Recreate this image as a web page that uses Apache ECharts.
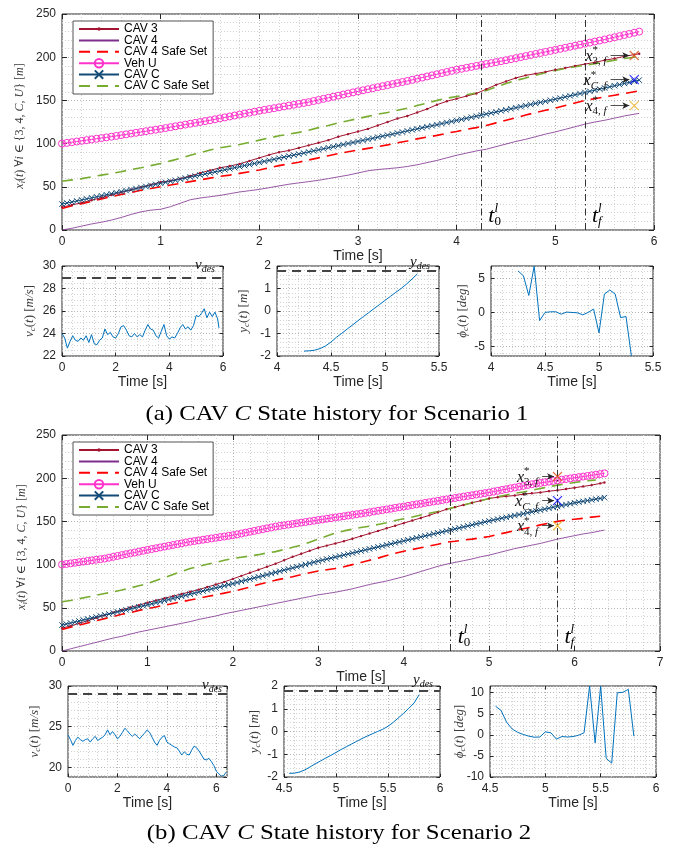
<!DOCTYPE html>
<html><head><meta charset="utf-8">
<script src="https://cdn.jsdelivr.net/npm/echarts@6/dist/echarts.min.js"></script>
<style>html,body{margin:0;padding:0;background:#fff}#c{width:681px;height:848px}</style>
</head><body><div id="c"></div><script>
// ---------------- DATA ----------------
// time bases
const tB1 = [0,.1,.2,.3,.4,.5,.6,.7,.8,.9,1,1.1,1.2,1.3,1.4,1.5,1.6,1.7,1.8,1.9,2,2.1,2.2,2.3,2.4,2.5,2.6,2.7,2.8,2.9,3,3.1,3.2,3.3,3.4,3.5,3.6,3.7,3.8,3.9,4,4.1,4.2,4.3,4.4,4.5,4.6,4.7,4.8,4.9,5,5.1,5.2,5.3,5.4,5.5,5.6,5.7,5.8,5.85];
const tA1 = [0,.05,.1,.15,.2,.25,.3,.35,.4,.45,.5,.55,.6,.65,.7,.75,.8,.85,.9,.95,
1,1.05,1.1,1.15,1.2,1.25,1.3,1.35,1.4,1.45,1.5,1.55,1.6,1.65,1.7,1.75,1.8,1.85,1.9,1.95,
2,2.05,2.1,2.15,2.2,2.25,2.3,2.35,2.4,2.45,2.5,2.55,2.6,2.65,2.7,2.75,2.8,2.85,2.9,2.95,
3,3.05,3.1,3.15,3.2,3.25,3.3,3.35,3.4,3.45,3.5,3.55,3.6,3.65,3.7,3.75,3.8,3.85,3.9,3.95,
4,4.05,4.1,4.15,4.2,4.25,4.3,4.35,4.4,4.45,4.5,4.55,4.6,4.65,4.7,4.75,4.8,4.85,4.9,4.95,
5,5.05,5.1,5.15,5.2,5.25,5.3,5.35,5.4,5.45,5.5,5.55,5.6,5.65,5.7,5.75,5.8,5.85];
const tB2 = [0,.1,.2,.3,.4,.5,.6,.7,.8,.9,1,1.1,1.2,1.3,1.4,1.5,1.6,1.7,1.8,1.9,2,2.1,2.2,2.3,2.4,2.5,2.6,2.7,2.8,2.9,3,3.1,3.2,3.3,3.4,3.5,3.6,3.7,3.8,3.9,4,4.1,4.2,4.3,4.4,4.5,4.6,4.7,4.8,4.9,5,5.1,5.2,5.3,5.4,5.5,5.6,5.7,5.8,5.9,6,6.1,6.2,6.3,6.35];
const tG2 = [0,.1,.2,.3,.4,.5,.6,.7,.8,.9,1,1.1,1.2,1.3,1.4,1.5,1.6,1.7,1.8,1.9,2,2.1,2.2,2.3,2.4,2.5,2.6,2.7,2.8,2.9,3,3.1,3.2,3.3,3.4,3.5,3.6,3.7,3.8,3.9,4,4.1,4.2,4.3,4.4,4.5,4.6,4.7,4.8,4.9,5,5.1,5.2,5.3,5.4,5.5,5.6,5.7,5.8,5.9,6,6.1,6.2,6.25];
const tV2 = [0,.1,.2,.3,.4,.5,.6,.7,.8,.9,1,1.1,1.2,1.3,1.4,1.5,1.6,1.7,1.8,1.9,2,2.1,2.2,2.3,2.4,2.5,2.6,2.7,2.8,2.9,3,3.1,3.2,3.3,3.4,3.5,3.6,3.7,3.8,3.9,4,4.1,4.2,4.3,4.4,4.5,4.6,4.7,4.8,4.9,5,5.1,5.2,5.3,5.4,5.5,5.6,5.7,5.8,5.9,6,6.1,6.2,6.3,6.4];
const tA2 = [0,.05,.1,.15,.2,.25,.3,.35,.4,.45,.5,.55,.6,.65,.7,.75,.8,.85,.9,.95,
1,1.05,1.1,1.15,1.2,1.25,1.3,1.35,1.4,1.45,1.5,1.55,1.6,1.65,1.7,1.75,1.8,1.85,1.9,1.95,
2,2.05,2.1,2.15,2.2,2.25,2.3,2.35,2.4,2.45,2.5,2.55,2.6,2.65,2.7,2.75,2.8,2.85,2.9,2.95,
3,3.05,3.1,3.15,3.2,3.25,3.3,3.35,3.4,3.45,3.5,3.55,3.6,3.65,3.7,3.75,3.8,3.85,3.9,3.95,
4,4.05,4.1,4.15,4.2,4.25,4.3,4.35,4.4,4.45,4.5,4.55,4.6,4.65,4.7,4.75,4.8,4.85,4.9,4.95,
5,5.05,5.1,5.15,5.2,5.25,5.3,5.35,5.4,5.45,5.5,5.55,5.6,5.65,5.7,5.75,5.8,5.85,5.9,5.95,
6,6.05,6.1,6.15,6.2,6.25,6.3,6.35];
const tY1 = [4.25,4.3,4.35,4.4,4.45,4.5,4.55,4.6,4.65,4.7,4.75,4.8,4.85,4.9,4.95,5,5.05,5.1,5.15,5.2,5.25,5.3];
const tY2 = [4.55,4.6,4.65,4.7,4.75,4.8,4.85,4.9,4.95,5,5.05,5.1,5.15,5.2,5.25,5.3,5.35,5.4,5.45,5.5,5.55,5.6,5.65,5.7,5.75,5.8];

// Scenario 1 positions [m]
const cav3_S1 = [26.5,29,31.5,34.5,37.5,40.5,43.5,46.5,49.5,52.5,55.5,57,59.5,62.5,66,69,72,74,76.5,80,83.5,87,90,92,95,98,101,104,108,111,114,117,121,125,129,132,136,140,145,149,152,155,158,163,168,172,176,179,181,183,185.5,187.5,190,192,194,196.5,198.5,201,203,204];
const cav4_S1 = [0,2,4.5,7,9,11.5,14.5,18,21,23,24,27,31,35,37,38.5,40,42,44,45.5,47,49,51,53,54.5,56,57.5,59.5,61.5,63.5,66,68.5,70,71,72,73.5,75.5,78,80.5,83.5,86.5,89,91.5,93.5,96.5,99.5,102.5,105,108,111,113.5,116.5,119.5,122.5,125,127,129.5,132,134,135];
const cav4Safe_S1 = [25,28,30.5,33,36,38.5,41,43.5,46,48,50,52,54,56,58,60,62,63.5,65.5,67.5,69.5,72,74.5,76.5,78.5,81,83.5,86,88.5,90.5,92.5,94.5,96.5,98.5,101,103,105.5,107.5,109.5,112,114,116.5,118.5,121,124,127,130,133,136,138.5,141,144,147,150,152,154,156,158,160,161];
const vehU_S1 = [100,100.8,101.6,102.4,103.2,104,104.8,105.6,106.4,107.2,108,
108.9,109.8,110.7,111.6,112.5,113.4,114.3,115.2,116.1,117,
118,119,120,121,122,123,124,125,126,127,
128.1,129.2,130.3,131.4,132.5,133.6,134.7,135.8,136.9,138,
139,140,141,142,143,144,145,146,147,148,
149.3,150.5,151.8,153,154.3,155.5,156.8,158,159.3,160.5,
161.7,162.9,164.1,165.3,166.5,167.7,168.9,170.1,171.3,172.5,
173.8,175.1,176.4,177.7,179,180.3,181.6,182.9,184.2,185.5,
186.6,187.7,188.8,189.9,191,192.1,193.2,194.3,195.4,196.5,
197.7,198.9,200.1,201.3,202.5,203.7,204.9,206.1,207.3,208.5,
209.7,210.9,212.1,213.3,214.5,215.7,216.9,218.1,219.3,220.5,
221.8,223.1,224.4,225.7,227,228.3,229.6];
const cavC_S1 = [30,31.2,32.4,33.6,34.8,36,37.2,38.4,39.6,40.8,42,43.2,44.4,45.6,46.8,48,49.2,50.4,51.6,52.8,54,
55.2,56.4,57.6,58.8,60.1,61.3,62.5,63.7,64.9,66.1,67.3,68.5,69.7,70.9,72.2,73.4,74.6,75.8,77,78.2,
79.4,80.6,81.8,83.1,84.3,85.5,86.7,87.9,89.1,90.4,91.6,92.8,94,95.2,96.4,97.6,98.9,100.1,101.3,102.5,
103.7,104.9,106.1,107.4,108.6,109.8,111,112.2,113.4,114.7,115.9,117.1,118.3,119.5,120.7,121.9,123.2,124.4,125.6,126.8,
128,129.3,130.5,131.7,133,134.2,135.4,136.6,137.9,139.1,140.3,141.6,142.8,144,145.3,146.5,147.7,148.9,150.2,151.4,
152.7,154,155.3,156.6,157.9,159.2,160.5,161.8,163.1,164.4,165.7,167,168.3,169.6,170.9,172.2,173.5];
const cavCSafe_S1 = [56.5,58,59.5,61.5,63.5,65.5,67.5,70,72,74.5,77,80,83,86.5,89.5,92.5,95,97,99,101.5,104,106.5,109,111,113,115.5,118.5,121,124,126.5,129,131.5,134,136,138.5,141,144,147,150,152.5,154.5,156.5,158.5,161.5,165.5,169.5,173,176,179,182,184.5,187,189,190.5,192.5,194.5,196.5,198.5,200,201];
// Scenario 1 states
const vC_S1 = [24.0,23.6,22.7,23.3,23.8,23.4,23.3,23.6,23.4,23.8,23.2,23.9,23.1,23.0,23.4,23.6,24.4,23.9,24.1,23.7,23.6,24.0,24.6,24.7,24.3,23.8,23.7,24.0,23.7,23.9,23.7,24.3,24.8,24.4,24.3,23.8,23.6,24.2,24.8,23.8,23.5,23.7,23.6,24.0,24.5,24.8,24.4,24.6,24.3,24.7,25.6,25.5,25.8,26.2,25.4,25.9,25.5,25.9,25.3,24.5];
const yC_S1 = [-1.78,-1.77,-1.74,-1.67,-1.55,-1.38,-1.17,-0.99,-0.8,-0.62,-0.43,-0.25,-0.07,0.11,0.29,0.47,0.65,0.83,1.0,1.2,1.42,1.65];
const phiC_S1 = [6.1,5.4,2.5,6.83,-1.2,0,0.1,0.1,-0.25,0.05,0,-0.05,-0.35,0,0.5,-3,2.7,3.3,2.7,-0.75,-0.6,-6.4];

// Scenario 2 positions [m]
const cav3_S2 = [26.5,29,32,35,38.5,41.5,44.5,47.5,50.5,53,56,58.5,61,63.5,66,68.5,71,74,77,80,83.5,87,90.5,94,97.5,101,105,109,112.5,116,119.5,122,124.5,127,130,133,136,139,142,145,148,151,154,157,160.5,164,166.5,169,171.5,174,176.5,178,179,180,181.5,182.5,183.5,185,186,187.5,189,190.5,192,194,195];
const cav4_S2 = [0,2.5,5,7.5,10,12.5,15,17,19.5,22,24,26,28,30,32,34,36.5,38.5,40.5,43,45,47,49,51,53,55,57,59,61,63,65,66.5,68,70,72,74.5,77,79,81,83.5,86,89,92,95,98,100.5,102.5,104.5,106.5,109,111,113.5,116,118.5,120.5,122.5,124.5,127,129.5,131.5,133.5,135.5,137,139,140];
const cav4Safe_S2 = [25,27.5,30,32.5,35,37.5,40,42.5,44.5,47,49,51,53,55,57,59,61,63,65,67,69,71.5,74,77,79.5,82,84,86,88.5,90.5,92.5,94,95.5,97.5,100,102.5,105,107.5,110.5,113,115.5,117.5,119.5,121.5,123.5,126,127,128.5,129.5,131,132.5,135,137,139.5,141.5,143.5,146,148,150,151.5,152.5,153.5,155,156];
const vehU_S2 = [100,100.7,101.4,102.1,102.8,103.5,104.2,104.9,105.6,106.3,107,
108,109,110,111,112,113,114,115,116,117,
118,118.9,119.9,120.8,121.8,122.7,123.7,124.6,125.6,126.5,
127.3,128,128.8,129.5,130.3,131,131.8,132.5,133.3,134,
135,136,137,138,139,140,141,142,143,144,
144.8,145.5,146.3,147,147.8,148.6,149.3,150.1,150.8,151.6,
152.3,153.1,153.8,154.6,155.3,156,156.8,157.5,158.3,159,
159.8,160.6,161.5,162.3,163.1,163.9,164.7,165.6,166.4,167.2,
168,168.9,169.7,170.5,171.4,172.2,173,173.8,174.7,175.5,
176.3,177.1,177.9,178.7,179.5,180.3,181.1,181.9,182.7,183.5,
184.5,185.4,186.4,187.3,188.3,189.2,190.2,191.1,192.1,193,
193.8,194.5,195.3,196,196.8,197.5,198.3,199,199.8,200.5,
201.2,201.9,202.6,203.3,204.1,204.8,205.6];
const cavC_S2 = [30,31.2,32.4,33.5,34.7,35.9,37.1,38.2,39.4,40.6,41.8,42.9,44.1,45.3,46.5,47.6,48.8,50,51.2,52.3,53.5,
54.7,56,57.2,58.4,59.6,60.9,62.1,63.3,64.5,65.8,67,68.2,69.4,70.7,71.9,73.1,74.3,75.6,76.8,78,
79.3,80.6,81.9,83.2,84.5,85.8,87.1,88.4,89.7,91,92.3,93.6,94.9,96.2,97.5,98.8,100.1,101.4,102.7,104,
105.2,106.4,107.5,108.7,109.9,111.1,112.2,113.4,114.6,115.8,116.9,118.1,119.3,120.5,121.6,122.8,124,125.2,126.3,127.5,
128.7,129.8,131,132.1,133.3,134.4,135.6,136.7,137.9,139,140.2,141.3,142.5,143.6,144.8,145.9,147.1,148.2,149.4,150.5,
151.6,152.6,153.7,154.7,155.8,156.8,157.9,158.9,160,161,162.1,163.1,164.2,165.2,166.3,167.3,168.4,169.4,170.5,171.5,
172.4,173.2,174.1,174.9,175.8,176.6,177.5];
const cavCSafe_S2 = [57,58.5,60.5,62.5,64.5,66.5,68.5,70.5,73,75.5,78,81.5,85,88.5,92,95.5,98,100.5,102.5,105,107,108.5,110,111.5,113.5,115,117.5,120,122.5,126,129.5,133,136.5,139,141,143,144.5,146.5,148.5,151,153,155,157.5,159.5,161.5,164,166.5,169,171.5,174,176.5,178.5,180.5,182.5,184,186,188,190,192,193.5,195,196.5,197.5,198];
// Scenario 2 states
const vC_S2 = [24.0,23.4,22.7,23.3,23.7,23.4,23.2,23.4,23.5,23.1,23.5,23.8,23.3,23.5,23.7,24.0,24.6,24.0,24.4,24.0,23.5,23.8,24.3,24.8,24.5,24.1,23.8,24.1,23.8,23.5,23.9,24.2,24.6,24.3,23.7,23.1,22.7,23.3,23.7,23.9,23.1,22.9,22.7,22.5,22.4,22.0,21.5,21.9,21.6,21.5,22.1,22.6,22.4,22.0,21.5,21.0,20.9,21.1,20.7,20.2,19.5,19.2,18.9,19.0,19.4];
const yC_S2 = [-1.84,-1.83,-1.78,-1.69,-1.56,-1.42,-1.3,-1.17,-1.05,-0.92,-0.79,-0.67,-0.55,-0.43,-0.31,-0.2,-0.1,0,0.1,0.23,0.4,0.6,0.8,1.02,1.25,1.62];
const phiC_S2 = [6.8,5.8,3.0,1.4,0.6,0.1,-0.3,-0.55,-0.5,0.7,0.5,-1.0,-0.4,-0.5,-0.4,-0.1,0.5,11.6,-1.9,11.6,-5.6,-6.7,10.0,10.1,10.8,-0.3];

// reference values / events
const vDes = 29, yDes = 1.8;
const events_S1 = [4.25, 5.3], events_S2 = [4.55, 5.8];
const targets_S1 = [202, 174, 144], targets_S2 = [202, 174, 145];
const targetT = 5.8;
const legendNames = ['CAV 3','CAV 4','CAV 4 Safe Set','Veh U','CAV C','CAV C Safe Set'];

// ---------------- STYLE / LAYOUT ----------------
const FS = '"Liberation Sans", Arial, sans-serif';
const SERIF = '"Liberation Serif", "DejaVu Serif", serif';
const XPATH = 'path://M0,0L10,10M10,0L0,10';
const DOTPATH = 'path://M0,0L0.01,0M10,10L9.99,10M3,5A2,2,0,1,0,7,5A2,2,0,1,0,3,5Z';
const ST = {
  'CAV 3': {color:'#A2142F', symbol:DOTPATH, size:6, width:1},
  'CAV 4': {color:'#7E2F8E', symbol:'none', width:0.8},
  'CAV 4 Safe Set': {color:'#FF0000', symbol:'none', width:1.6, type:[11,7]},
  'Veh U': {color:'#FF33CC', symbol:'circle', size:7, width:1, hollow:true},
  'CAV C': {color:'#134B78', symbol:XPATH, size:5.5, width:1, hollow:true},
  'CAV C Safe Set': {color:'#77AC30', symbol:'none', width:1.6, type:[11,7]}
};
const grids = [
  {left:62, top:14, width:592, height:216},
  {left:62, top:266, width:161, height:90},
  {left:277, top:266, width:162, height:90},
  {left:491, top:266, width:162, height:90},
  {left:62, top:435, width:598, height:216},
  {left:68, top:686, width:159, height:91},
  {left:284, top:686, width:156, height:91},
  {left:490, top:686, width:166, height:91}
];
const axX = [
  {min:0,max:6,interval:1,minor:5,gap:18},
  {min:0,max:6,interval:2,minor:5,gap:16},
  {min:4,max:5.5,interval:0.5,minor:5,gap:16},
  {min:4,max:5.5,interval:0.5,minor:5,gap:16},
  {min:0,max:7,interval:1,minor:5,gap:17},
  {min:0,max:6.43,interval:2,minor:5,gap:15,hideMax:true},
  {min:4.5,max:6,interval:0.5,minor:5,gap:15},
  {min:4.5,max:6,interval:0.5,minor:5,gap:15}
];
const axY = [
  {min:0,max:250,interval:50,minor:5},
  {min:22,max:30,interval:2,minor:4},
  {min:-2,max:2,interval:1,minor:5},
  {min:-6.4,max:6.83,splitNumber:3,minor:5,hideMin:true,hideMax:true},
  {min:0,max:250,interval:50,minor:5},
  {min:18.8,max:30,splitNumber:2,minor:5,hideMin:true},
  {min:-2,max:2,interval:1,minor:5},
  {min:-10,max:11.6,interval:5,minor:5,hideMax:true}
];

function mkAxis(cfg, gi, pos, mirror, isX) {
  const big = (gi % 4 === 0);
  const a = {
    type:'value', gridIndex:gi, position:pos, min:cfg.min, max:cfg.max,
    axisLine:{show:false, onZero:false},
    axisTick:{show:true, inside:true, length: big?5:3.5, lineStyle:{color:'#262626', width:1}},
    axisLabel:{show:!mirror, margin:6, fontSize:12, fontFamily:FS, color:'#262626',
      showMinLabel: cfg.hideMin ? false : null, showMaxLabel: cfg.hideMax ? false : null},
    splitLine:{show:!mirror, lineStyle:{type:[1,2], color:'#b5b5b5', width:1}},
    minorTick:{show:false, splitNumber:cfg.minor},
    minorSplitLine:{show:!mirror, lineStyle:{type:[1,2], color:'#d2d2d2', width:1}}
  };
  if (cfg.interval) a.interval = cfg.interval; else a.splitNumber = cfg.splitNumber;
  if (isX && !mirror) {
    a.name = 'Time [s]'; a.nameLocation = 'middle'; a.nameGap = cfg.gap;
    a.nameTextStyle = {fontSize:14, fontFamily:FS, color:'#262626'};
  }
  return a;
}
const xAxes = [], yAxes = [];
grids.forEach((g,i)=>{ xAxes.push(mkAxis(axX[i], i, 'bottom', false, true)); yAxes.push(mkAxis(axY[i], i, 'left', false, false)); });
grids.forEach((g,i)=>{ xAxes.push(mkAxis(axX[i], i, 'top', true, true)); yAxes.push(mkAxis(axY[i], i, 'right', true, false)); });

function pair(t, v) { return v.map((y,i)=>[t[i], y]); }
function posSeries(gi, name, t, v, extra) {
  const s = ST[name];
  const o = {
    type:'line', name, xAxisIndex:gi, yAxisIndex:gi, data:pair(t,v),
    symbol:s.symbol, symbolSize:s.size||4, showSymbol:s.symbol!=='none',
    lineStyle:{color:s.color, width:s.width, type:s.type||'solid'},
    itemStyle: s.hollow ? {color:'rgba(0,0,0,0)', borderColor:s.color, borderWidth:1} : {color:s.color},
    emphasis:{disabled:true}, silent:true, clip:true
  };
  return Object.assign(o, extra||{});
}
function eventLines(ev) {
  return {markLine:{silent:true, symbol:'none', label:{show:false}, emphasis:{disabled:true},
    lineStyle:{color:'#333', width:1, type:[7,3,1.5,3]}, data:ev.map(x=>({xAxis:x}))}};
}
function targetSeries(gi, ys, a0, a1) {
  const cols = ['#D95319','#0000FF','#EDB120'];
  return {type:'scatter', xAxisIndex:gi, yAxisIndex:gi, symbol:XPATH, symbolSize:9, silent:true, z:5,
    data: ys.map((y,i)=>({value:[targetT,y], itemStyle:{color:'rgba(0,0,0,0)', borderColor:cols[i], borderWidth:1.2}})),
    markLine:{silent:true, symbol:['none','arrow'], symbolSize:[5,7], label:{show:false}, emphasis:{disabled:true},
      lineStyle:{color:'#262626', width:0.8, type:'solid'},
      data: ys.map(y=>[{coord:[a0,y]},{coord:[a1,y]}])}};
}
function stateSeries(gi, t, v, ref) {
  const o = {type:'line', xAxisIndex:gi, yAxisIndex:gi, data:pair(t,v), symbol:'none', silent:true, clip:true,
    lineStyle:{color:'#0072BD', width:1}, emphasis:{disabled:true}};
  if (ref !== undefined) o.markLine = {silent:true, symbol:'none', label:{show:false}, emphasis:{disabled:true},
    lineStyle:{color:'#444', width:2.2, type:[9,6]}, data:[{yAxis:ref}]};
  return o;
}

const series = [
  posSeries(0,'CAV 3',tB1,cav3_S1),
  posSeries(0,'CAV 4',tB1,cav4_S1, eventLines(events_S1)),
  posSeries(0,'CAV 4 Safe Set',tB1,cav4Safe_S1),
  posSeries(0,'Veh U',tA1,vehU_S1),
  posSeries(0,'CAV C',tA1,cavC_S1),
  posSeries(0,'CAV C Safe Set',tB1,cavCSafe_S1),
  targetSeries(0, targets_S1, 5.56, 5.75),
  stateSeries(1, tB1, vC_S1, vDes),
  stateSeries(2, tY1, yC_S1, yDes),
  stateSeries(3, tY1, phiC_S1),
  posSeries(4,'CAV 3',tB2,cav3_S2),
  posSeries(4,'CAV 4',tB2,cav4_S2, eventLines(events_S2)),
  posSeries(4,'CAV 4 Safe Set',tB2,cav4Safe_S2),
  posSeries(4,'Veh U',tA2,vehU_S2),
  posSeries(4,'CAV C',tA2,cavC_S2),
  posSeries(4,'CAV C Safe Set',tG2,cavCSafe_S2),
  targetSeries(4, targets_S2, 5.62, 5.76),
  stateSeries(5, tV2, vC_S2, vDes),
  stateSeries(6, tY2, yC_S2, yDes),
  stateSeries(7, tY2, phiC_S2)
];

const legendData = legendNames.map(n => ST[n].symbol === 'none' ? {name:n, itemStyle:{opacity:0}} : {name:n});
const legend = [21, 442].map(top=>({
  orient:'vertical', left:73, top, data:legendData, itemWidth:40, itemHeight:10.5, itemGap:-0.6,
  padding:[2,4,2,5], borderColor:'#262626', borderWidth:0.8, backgroundColor:'#fff', borderRadius:0,
  selectedMode:false, textStyle:{fontSize:12, fontFamily:FS, color:'#000', lineHeight:11}, z:10
}));

const option = {
  animation:false, backgroundColor:'#fff', textStyle:{fontFamily:FS},
  grid: grids.map(g=>Object.assign({show:true, borderColor:'#262626', borderWidth:1, backgroundColor:'transparent'}, g)),
  xAxis:xAxes, yAxis:yAxes, legend, series
};

const chart = echarts.init(document.getElementById('c'), null, {renderer:'canvas'});
chart.setOption(option);

// ---------------- math-style text annotations ----------------
const mctx = document.createElement('canvas').getContext('2d');
function tw(s, size, it) { mctx.font = (it?'italic ':'') + size + 'px ' + SERIF; return mctx.measureText(s).width; }
function mathGroup(parts, x, y, anchor, rot, color, sx) {
  let cur = 0, last = 0; const els = [];
  for (const p of parts) {
    const [s, size, it, dy, stack] = p;
    const w = tw(s, size, it);
    let px;
    if (stack) px = last; else { px = cur; last = cur; }
    els.push({type:'text', x:px, y:dy||0, z:100, silent:true,
      style:{text:s, font:(it?'italic ':'') + size + 'px ' + SERIF, fill:color||'#262626', verticalAlign:'middle', align:'left'}});
    cur = stack ? Math.max(cur, px + w) : px + w;
  }
  const off = anchor === 'center' ? -cur/2 : (anchor === 'right' ? -cur : 0);
  els.forEach(e => e.x += off);
  return {type:'group', x, y, rotation:rot||0, scaleX:sx||1, silent:true, children:els};
}
const P = (gi, x, y) => chart.convertToPixel({xAxisIndex:gi, yAxisIndex:gi}, [x, y]);
const G = [];
const LBL = '#3a3a3a';
const R90 = Math.PI/2;
// captions
G.push(mathGroup([['(a) CAV ',21,false,0],['C',21,true,0],[' State history for Scenario 1',21,false,0]], 337, 414, 'center', 0, '#000', 1.18));
G.push(mathGroup([['(b) CAV ',21,false,0],['C',21,true,0],[' State history for Scenario 2',21,false,0]], 339, 833, 'center', 0, '#000', 1.18));
// y axis names
const mainY = [['x',12,true,0],['i',8.5,true,3],['(',12,false,0],['t',12,true,0],[') \u2200',12,false,0],['i',12,true,0],[' \u2208 {3, 4, ',12,false,0],['C',12,true,0],[', ',12,false,0],['U',12,true,0],['} [',12,false,0],['m',12,true,0],[']',12,false,0]];
const vY = [['v',13,true,0],['c',9,true,3],['(',13,false,0],['t',13,true,0],[') [',13,false,0],['m/s',13,true,0],[']',13,false,0]];
const yY = [['y',13,true,0],['c',9,true,3],['(',13,false,0],['t',13,true,0],[') [',13,false,0],['m',13,true,0],[']',13,false,0]];
const pY = [['\u03D5',13,true,0],['c',9,true,3],['(',13,false,0],['t',13,true,0],[') [',13,false,0],['deg',13,true,0],[']',13,false,0]];
const yNames = [[mainY,20],[vY,30],[yY,243.5],[pY,462.5],[mainY,21.5],[vY,34.5],[yY,255],[pY,460]];
yNames.forEach(([parts, cx], gi) => {
  const g = grids[gi];
  G.push(mathGroup(parts, cx, g.top + g.height/2 + (gi%4===0?4:0), 'center', R90, LBL));
});
// event labels t_0^l, t_f^l
[[0, events_S1],[4, events_S2]].forEach(([gi, ev]) => {
  const bottom = grids[gi].top + grids[gi].height;
  const p0 = P(gi, ev[0], 0), p1 = P(gi, ev[1], 0);
  G.push(mathGroup([['t',22,true,0],['l',13,true,-7],['0',13,false,6,true]], p0[0] + 7, bottom - 14, 'left', 0, '#000'));
  G.push(mathGroup([['t',22,true,0],['l',13,true,-7],['f',13,true,6,true]], p1[0] + 7, bottom - 14, 'left', 0, '#000'));
});
// target labels x*_{3,f}, x*_{C,f}, x*_{4,f}
[[0, targets_S1, 5.56],[4, targets_S2, 5.62]].forEach(([gi, ys, a0]) => {
  const subs = [[['3, ',11,false,5,true],['f',11,true,5]], [['C',11,true,5,true],[', ',11,false,5],['f',11,true,5]], [['4, ',11,false,5,true],['f',11,true,5]]];
  ys.forEach((y, i) => {
    const p = P(gi, a0, y);
    G.push(mathGroup([['x',16,true,0],['*',11,false,-6]].concat(subs[i]), p[0] - 4, p[1] + 1, 'right', 0, '#111'));
  });
});
// reference labels v_des, y_des
[[1,'v',-1, 8],[5,'v',-1, 5],[2,'y',-4, 9],[6,'y',-6, 7]].forEach(([gi, ch, dy, dx]) => {
  const g = grids[gi];
  G.push(mathGroup([[ch,15,true,0],['des',10,true,4]], g.left + g.width - dx, g.top + dy, 'right', 0, '#111'));
});
chart.setOption({graphic: G});
</script></body></html>
